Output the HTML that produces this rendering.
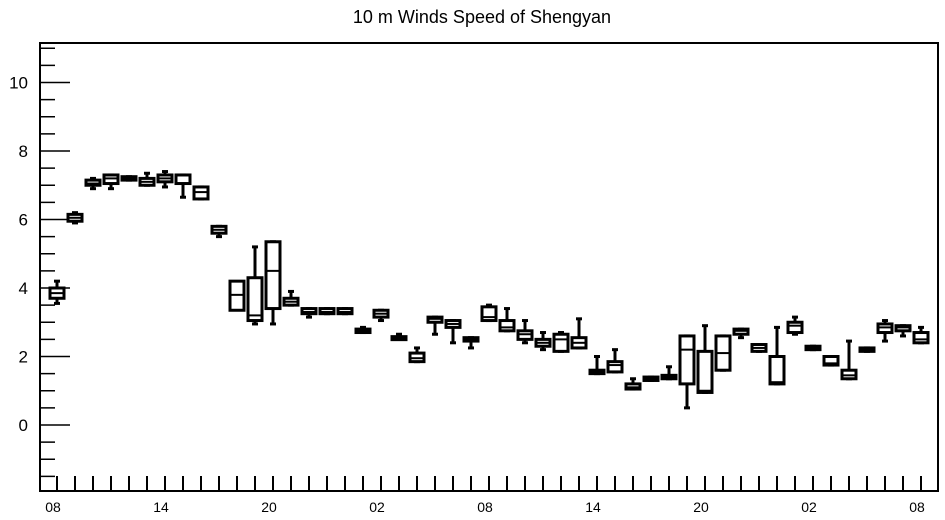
<!DOCTYPE html>
<html><head><meta charset="utf-8"><style>
body{margin:0;background:#fff;font-family:"Liberation Sans",sans-serif}
svg{display:block}
</style></head><body>
<svg id="chart" width="945" height="520">
<text x="482" y="23" text-anchor="middle" font-size="18">10 m Winds Speed of Shengyan</text>
<rect x="40" y="43" width="898" height="448" fill="none" stroke="#000" stroke-width="2"/>
<g id="axes"></g>
<g id="boxes"></g>
</svg>
<script>
const q1 =  [3.7,5.95,7.0,7.05,7.15,7.0,7.1,7.05,6.6,5.6,3.35,3.05,3.4,3.5,3.25,3.25,3.25,2.7,3.15,2.5,1.85,3.0,2.85,2.45,3.05,2.75,2.5,2.3,2.15,2.25,1.5,1.55,1.05,1.3,1.35,1.2,0.95,1.6,2.65,2.15,1.2,2.7,2.2,1.75,1.35,2.15,2.7,2.75,2.4];
const q3 =  [4.0,6.15,7.15,7.3,7.25,7.2,7.3,7.3,6.95,5.8,4.2,4.3,5.35,3.7,3.4,3.4,3.4,2.8,3.35,2.58,2.1,3.15,3.05,2.55,3.45,3.05,2.75,2.5,2.65,2.55,1.6,1.85,1.2,1.4,1.45,2.6,2.15,2.6,2.8,2.35,2.0,3.0,2.3,2.0,1.6,2.25,2.95,2.9,2.7];
const med = [3.85,6.05,7.05,7.2,7.2,7.1,7.2,7.3,6.8,5.7,3.8,3.2,4.5,3.6,3.3,3.3,3.3,2.75,3.25,2.55,1.95,3.1,2.95,2.5,3.15,2.85,2.65,2.4,2.5,2.4,1.55,1.75,1.1,1.35,1.4,2.2,1.0,2.1,2.75,2.25,1.25,2.9,2.25,1.8,1.45,2.2,2.85,2.85,2.5];
const wlo = [3.55,5.9,6.9,6.9,7.15,7.0,6.95,6.65,6.6,5.5,3.5,2.95,2.95,3.5,3.15,3.25,3.25,2.7,3.05,2.5,1.85,2.65,2.4,2.25,3.05,2.75,2.4,2.2,2.15,2.25,1.5,1.55,1.05,1.3,1.35,0.5,0.95,1.6,2.55,2.15,1.2,2.65,2.2,1.75,1.35,2.15,2.45,2.6,2.4];
const whi = [4.2,6.2,7.2,7.3,7.25,7.35,7.4,7.3,6.95,5.8,4.1,5.2,5.35,3.9,3.4,3.4,3.4,2.85,3.35,2.65,2.25,3.15,3.05,2.55,3.5,3.4,3.05,2.7,2.7,3.1,2.0,2.2,1.35,1.4,1.7,2.6,2.9,2.6,2.8,2.35,2.85,3.15,2.3,2.0,2.45,2.25,3.05,2.9,2.85];
const xLabels = ["08","14","20","02","08","14","20","02","08"];
const yTicks = [0,2,4,6,8,10];

const NS="http://www.w3.org/2000/svg";
const X0=57, DX=18, Y0=425, KY=34.25;
function xs(i){return X0+i*DX;}
function ys(v){return Y0-v*KY;}
function mk(tag,attrs,parent){const e=document.createElementNS(NS,tag);for(const k in attrs)e.setAttribute(k,attrs[k]);parent.appendChild(e);return e;}
const ax=document.getElementById('axes'), bx=document.getElementById('boxes');
for(let v=-1.5;v<=11;v+=0.5){
  const major=Number.isInteger(v)&&v%2===0;
  const t=mk('line',{x1:40,x2:major?70:55,y1:ys(v),y2:ys(v),stroke:'#000','stroke-width':1.5},ax);
  
  
}
yTicks.forEach(v=>{
  const t=mk('text',{x:28,y:ys(v)+6,'text-anchor':'end','font-size':17},ax);t.textContent=v;
  
  
});
for(let i=0;i<q1.length;i++){
  const t=mk('line',{x1:xs(i),x2:xs(i),y1:491,y2:476,stroke:'#000','stroke-width':2},ax);
  
  
}
xLabels.forEach((s,k)=>{
  const t=mk('text',{x:xs(k*6)-4,y:512,'text-anchor':'middle','font-size':14},ax);t.textContent=s;
  
  
});
for(let i=0;i<q1.length;i++){
  const g=mk('g',{},bx);
  
  
  const x=xs(i), w=14;
  mk('line',{x1:x,x2:x,y1:ys(whi[i]),y2:ys(q3[i]),stroke:'#000','stroke-width':3},g);
  mk('line',{x1:x,x2:x,y1:ys(q1[i]),y2:ys(wlo[i]),stroke:'#000','stroke-width':3},g);
  mk('line',{x1:x-3,x2:x+3,y1:ys(whi[i]),y2:ys(whi[i]),stroke:'#000','stroke-width':3},g);
  mk('line',{x1:x-3,x2:x+3,y1:ys(wlo[i]),y2:ys(wlo[i]),stroke:'#000','stroke-width':3},g);
  const h=Math.max(ys(q1[i])-ys(q3[i]),3);
  mk('rect',{x:x-w/2,y:ys(q3[i]),width:w,height:h,fill:'#fff',stroke:'#000','stroke-width':3},g);
  mk('line',{x1:x-w/2,x2:x+w/2,y1:ys(med[i]),y2:ys(med[i]),stroke:'#000','stroke-width':2},g);
}
</script>
</body></html>
